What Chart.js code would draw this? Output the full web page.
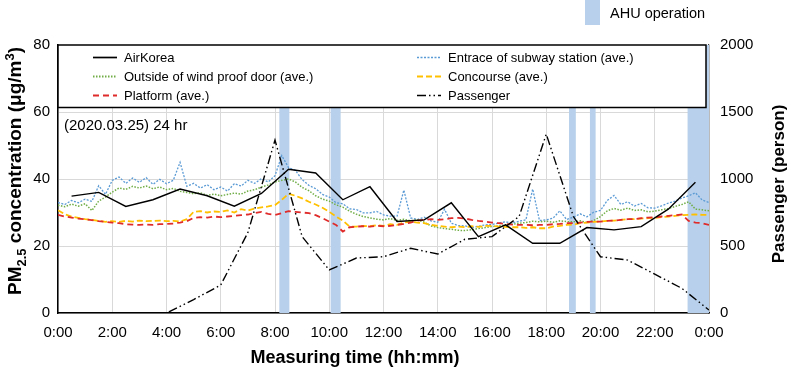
<!DOCTYPE html>
<html><head><meta charset="utf-8">
<script src="https://cdn.jsdelivr.net/npm/chart.js@4.4.1/dist/chart.umd.min.js"></script>
<style>html,body{margin:0;padding:0;background:#fff}#wrap{position:relative;width:791px;height:367px}</style>
</head><body><div id="wrap"><canvas id="c"></canvas></div>
<script>
/* ---- data ---- */
const STEP_H = 0.25; // sensor series: one reading every 15 min, 0:00 .. 24:00
const ENTRANCE = [
  33.0,32.4,33.6,32.9, 34.0,33.3,38.0,35.4, 39.6,40.6,38.7,40.3, 39.0,40.4,38.4,39.9,
  38.6,39.6,45.0,37.8, 38.7,37.3,38.3,36.8, 37.6,36.4,38.6,37.9, 39.6,38.7,40.1,39.1,
  41.0,47.0,43.4,42.6, 39.8,38.1,37.1,35.4, 34.6,32.9,32.6,31.1, 30.9,29.9,29.9,30.3,
  29.3,28.9,28.9,36.7, 28.4,27.9,28.6,27.5, 27.1,31.0,26.8,26.1, 26.0,25.5,25.9,26.3,
  26.4,26.9,27.2,26.9, 27.4,27.8,37.0,27.6, 27.8,28.3,30.5,27.9, 28.6,29.6,28.7,30.1,
  30.6,33.6,35.1,32.4, 33.2,31.9,32.7,31.4, 31.3,32.0,32.8,33.4, 34.3,35.0,35.9,33.7, 33.0];
const OUTSIDE = [
  32.2,31.7,32.5,31.9, 32.6,30.6,33.4,34.6, 36.1,37.3,36.9,37.8, 37.3,37.9,37.1,37.6,
  36.8,37.2,36.3,36.0, 35.6,35.9,35.1,35.5, 35.0,35.4,35.8,35.5, 36.4,36.8,37.6,38.2,
  39.1,39.6,40.0,39.1, 37.5,36.5,35.0,34.0, 33.4,32.3,31.6,30.4, 29.5,28.8,28.4,28.0,
  27.8,28.2,27.6,28.0, 27.5,27.8,27.1,26.0, 25.5,25.2,25.0,24.7, 24.6,24.9,25.2,25.5,
  25.8,26.0,26.3,26.5, 26.8,27.0,27.4,27.2, 27.4,27.1,27.5,27.3, 27.2,27.5,27.0,27.6,
  28.8,30.5,31.2,30.7, 31.3,30.6,30.8,30.2, 30.4,30.8,31.2,31.8, 32.4,33.2,31.0,30.8, 30.5];
const CONCOURSE = [
  30.7,29.5,28.8,28.4, 28.0,27.8,27.5,27.2, 27.4,27.2,27.5,27.3, 27.6,27.4,27.5,27.6,
  27.4,27.5,27.3,28.0, 30.2,30.4,30.0,30.3, 30.2,30.6,30.0,31.0, 30.6,31.2,31.5,31.8,
  32.2,33.8,35.6,35.0, 34.2,33.2,32.4,31.4, 30.2,28.8,27.6,25.8, 25.8,26.0,25.9,26.2,
  26.0,26.5,26.3,27.0, 27.3,27.0,26.8,26.3, 26.0,25.8,25.6,25.8, 25.6,25.9,25.7,26.0,
  26.0,25.8,25.7,25.6, 25.6,25.4,25.6,25.3, 25.3,25.8,26.0,26.3, 26.4,26.8,27.0,27.2,
  27.3,27.5,27.6,27.8, 28.0,28.0,28.2,28.3, 28.4,28.6,28.8,29.0, 29.2,29.3,29.4,29.3, 29.3];
const PLATFORM = [
  29.3,28.8,28.5,28.2, 28.0,27.7,27.4,27.2, 27.0,26.8,26.5,26.4, 26.3,26.4,26.3,26.5,
  26.6,26.7,27.0,27.4, 28.4,28.6,28.5,28.8, 28.6,28.8,29.0,29.2, 29.4,29.8,30.2,29.6,
  29.3,29.8,30.4,30.2, 30.0,29.8,29.2,28.3, 27.3,26.3,24.3,25.6, 25.8,25.9,25.8,26.0,
  25.9,26.0,26.3,26.6, 27.0,27.6,27.8,28.0, 27.8,28.0,28.3,28.4, 28.2,27.8,27.5,27.3,
  27.0,26.8,26.6,26.4, 26.3,26.3,26.2,26.3, 26.3,26.5,26.6,26.8, 26.8,27.0,27.2,27.3,
  27.3,27.5,27.6,27.8, 28.0,28.0,28.3,28.5, 28.6,28.8,29.0,29.2, 29.4,27.5,27.0,26.8, 26.3];
const AK_HOURS = [0.5,1.5,2.5,3.5,4.5,5.5,6.5,7.5,8.5,9.5,10.5,11.5,12.5,13.5,14.5,15.5,16.5,17.5,18.5,19.5,20.5,21.5,22.5,23.5];
const AK_VALUES = [34.9,36.0,31.8,33.8,37.0,35.0,31.9,35.7,42.9,41.8,33.8,37.7,27.3,27.8,32.9,22.8,26.3,20.8,20.8,25.5,24.8,25.8,31.0,39.0];
const PAX_HOURS = [1,2,3,4,5,6,7,8,9,10,11,12,13,14,15,16,17,18,19,20,21,22,23,24];
const PAX_VALUES = [0,0,0,0,100,209,600,1290,570,321,410,420,483,440,550,570,720,1335,720,420,395,290,184,22];
const AHU_START = [8.16,10.05,18.84,19.61,23.21];
const AHU_END   = [8.53,10.42,19.09,19.82,24];
const X_TICKS = ['0:00','2:00','4:00','6:00','8:00','10:00','12:00','14:00','16:00','18:00','20:00','22:00','0:00'];

const pts = (xs,ys)=>ys.map((y,i)=>({x:xs[i],y}));
const quarter = ys=>ys.map((y,i)=>({x:i*STEP_H,y}));

const FONT="'Liberation Sans', Arial, sans-serif";
Chart.defaults.font.family=FONT;
Chart.defaults.color='#000';
const BAND='#b8d0eb', GRID='#d9d9d9';

const series=[
  {label:'AirKorea',data:pts(AK_HOURS,AK_VALUES),borderColor:'#000',borderWidth:1.4,dash:[],order:0},
  {label:'Entrace of subway station (ave.)',data:quarter(ENTRANCE),borderColor:'#5b9bd5',borderWidth:1.3,dash:[2,1.5],order:5},
  {label:'Outside of wind proof door (ave.)',data:quarter(OUTSIDE),borderColor:'#70ad47',borderWidth:1.5,dash:[1.5,1.5],order:4},
  {label:'Concourse (ave.)',data:quarter(CONCOURSE),borderColor:'#ffc000',borderWidth:1.8,dash:[6,3],order:3},
  {label:'Platform (ave.)',data:quarter(PLATFORM),borderColor:'#e02b2b',borderWidth:1.8,dash:[6,4],order:2},
  {label:'Passenger',data:pts(PAX_HOURS,PAX_VALUES),borderColor:'#000',borderWidth:1.4,dash:[9,3,1.5,3,1.5,3],order:1,yAxisID:'y1'}
];
// legend slots: [column x, row y]
const legendSlots=[[93,57.5],[417,57.5],[93,76.5],[417,76.5],[93,95.5],[417,95.5]];
const legendOrder=[0,1,2,3,4,5];

/* AHU shaded spans, behind the lines */
const bandPlugin={id:'bands',beforeDatasetsDraw(ch){
  const{ctx,chartArea:a,scales:{x}}=ch;ctx.save();ctx.fillStyle=BAND;
  AHU_START.forEach((s,i)=>{
    const x0=x.getPixelForValue(s),x1=x.getPixelForValue(AHU_END[i]);
    ctx.fillRect(x0,a.top,x1-x0,a.bottom-a.top);
  });
  ctx.restore();}};

/* legend box inside the plot, titles and notes */
const decoPlugin={id:'deco',afterDraw(ch){
  const{ctx}=ch;ctx.save();
  // legend box
  ctx.fillStyle='#fff';ctx.fillRect(58,45,648,62.5);
  ctx.strokeStyle='#000';ctx.lineWidth=1.5;ctx.strokeRect(58,45,648,62.5);
  ctx.font='13px '+FONT;ctx.textBaseline='middle';ctx.textAlign='left';
  legendOrder.forEach((di,k)=>{
    const s=series[di],[lx,ly]=legendSlots[k];
    ctx.strokeStyle=s.borderColor;ctx.lineWidth=s.borderWidth+0.3;ctx.setLineDash(s.dash);
    ctx.beginPath();ctx.moveTo(lx,ly);ctx.lineTo(lx+24,ly);ctx.stroke();
    ctx.setLineDash([]);ctx.fillStyle='#000';
    ctx.fillText(s.label,lx+31,ly+0.5);
  });
  // date note
  ctx.font='15px '+FONT;ctx.fillText('(2020.03.25) 24 hr',64,126);
  // AHU key
  ctx.fillStyle=BAND;ctx.fillRect(585,0,15,25);
  ctx.fillStyle='#000';ctx.font='14.5px '+FONT;ctx.fillText('AHU operation',610,14);
  // x title
  ctx.font='bold 18px '+FONT;ctx.textAlign='center';
  ctx.fillText('Measuring time (hh:mm)',355,358);
  // right title
  ctx.save();ctx.translate(779,184);ctx.rotate(-Math.PI/2);
  ctx.font='bold 17px '+FONT;ctx.fillText('Passenger (person)',0,0);ctx.restore();
  // left title with sub/superscript
  const parts=[['PM',19,0],['2.5',13,5],[' concentration (\u03bcg/m',19,0],['3',13,-7],[')',19,0]];
  ctx.save();ctx.translate(14,171);ctx.rotate(-Math.PI/2);ctx.textAlign='left';ctx.textBaseline='alphabetic';
  let w=0;parts.forEach(p=>{ctx.font='bold '+p[1]+'px '+FONT;w+=ctx.measureText(p[0]).width;});
  let px=-w/2;
  parts.forEach(p=>{ctx.font='bold '+p[1]+'px '+FONT;ctx.fillText(p[0],px,6.5+p[2]);px+=ctx.measureText(p[0]).width;});
  ctx.restore();
  ctx.restore();}};

new Chart(document.getElementById('c'),{type:'line',
  data:{datasets:series.map(s=>({label:s.label,data:s.data,borderColor:s.borderColor,borderWidth:s.borderWidth,
    borderDash:s.dash,order:s.order,yAxisID:s.yAxisID||'y',pointRadius:0,tension:0,fill:false}))},
  options:{responsive:true,maintainAspectRatio:false,animation:false,
    layout:{padding:{top:45,left:0,right:0,bottom:0}},
    plugins:{legend:{display:false},tooltip:{enabled:false}},
    scales:{
      x:{type:'linear',min:0,max:24,afterFit:s=>{s.height=54;},
        ticks:{stepSize:2,padding:11,font:{size:15},color:'#000',callback:v=>X_TICKS[v/2]},
        grid:{color:GRID,drawTicks:false},border:{color:'#000',width:1.5}},
      y:{position:'left',min:0,max:80,afterFit:s=>{s.width=58;},
        ticks:{stepSize:20,padding:8,font:{size:15},color:'#000',callback:v=>String(v)},
        grid:{color:GRID,drawTicks:false},border:{color:'#000',width:1.5}},
      y1:{position:'right',min:0,max:2000,afterFit:s=>{s.width=82;},
        ticks:{stepSize:500,padding:11,font:{size:15},color:'#000',callback:v=>String(v)},
        grid:{display:false,drawTicks:false},border:{color:'#404040',width:1.2}}
    }},
  plugins:[bandPlugin,decoPlugin]
});
</script></body></html>
